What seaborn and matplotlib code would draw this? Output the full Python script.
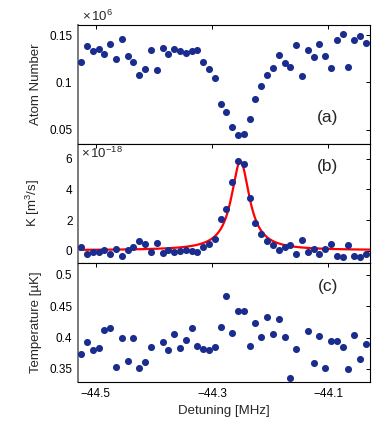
import numpy as np
import pandas as pd
import seaborn as sns
from matplotlib import pyplot as plt

# detuning in MHz, one value per shot
detuning = [-44.525, -44.515, -44.505, -44.495, -44.485, -44.475, -44.465, -44.455, -44.445, -44.435,
            -44.425, -44.415, -44.405, -44.395, -44.385, -44.375, -44.365, -44.355, -44.345, -44.335,
            -44.325, -44.315, -44.305, -44.295, -44.285, -44.275, -44.265, -44.255, -44.245, -44.235,
            -44.225, -44.215, -44.205, -44.195, -44.185, -44.175, -44.165, -44.155, -44.145, -44.135,
            -44.125, -44.115, -44.105, -44.095, -44.085, -44.075, -44.065, -44.055, -44.045, -44.035]

# atom number in units of 1e6
atoms = [0.1218, 0.1387, 0.1327, 0.1349, 0.1296, 0.1405, 0.1250, 0.1461, 0.1275, 0.1215,
         0.1081, 0.1141, 0.1345, 0.1127, 0.1359, 0.1303, 0.1352, 0.1331, 0.1313, 0.1334,
         0.1342, 0.1215, 0.1141, 0.1049, 0.0771, 0.0687, 0.0528, 0.0447, 0.0458, 0.0613,
         0.0824, 0.0958, 0.1077, 0.1151, 0.1292, 0.1208, 0.1158, 0.1398, 0.1063, 0.1338,
         0.1268, 0.1401, 0.1275, 0.1148, 0.1444, 0.1511, 0.1158, 0.1444, 0.1493, 0.1412]

# loss coefficient K in units of 1e-18 m^3/s
K = [0.22, -0.22, -0.07, -0.11, 0.04, -0.22, 0.13, -0.35, 0.04, 0.22,
     0.63, 0.43, -0.11, 0.48, -0.13, 0.04, -0.09, -0.02, 0.02, -0.04,
     -0.09, 0.22, 0.43, 0.74, 2.07, 2.74, 4.46, 5.85, 5.65, 3.43,
     1.78, 1.09, 0.65, 0.39, 0.02, 0.26, 0.37, -0.22, 0.70, -0.09,
     0.09, -0.22, 0.09, 0.41, -0.33, -0.43, 0.37, -0.33, -0.39, -0.22]

# temperature in uK (nan = no point shown)
temp = [0.3735, 0.3931, 0.3799, 0.3831, 0.4123, 0.4160, 0.3537, 0.3990, 0.3623, 0.4000,
        0.3521, 0.3607, 0.3852, np.nan, 0.3931, 0.3799, 0.4054, 0.3840, 0.3968, 0.4160,
        0.3868, 0.3824, 0.3799, 0.3852, 0.4166, 0.4666, 0.4070, 0.4431, 0.4431, 0.3872,
        0.4230, 0.4011, 0.4335, 0.4064, 0.4294, 0.4016, 0.3352, 0.3824, np.nan, 0.4107,
        0.3601, 0.4027, 0.3521, 0.3947, 0.3947, 0.3847, 0.3505, 0.4043, 0.3665, 0.3904]

# lorentzian fit to K
fit_center = -44.251
fit_amp = 5.8
fit_hwhm = 0.019
fit_offset = 0.03

df = pd.DataFrame({'detuning': detuning, 'atoms': atoms, 'K': K, 'temp': temp})
xfit = np.linspace(-44.535, -44.025, 600)
fit = pd.DataFrame({'detuning': xfit,
                    'K': fit_offset + fit_amp / (1 + ((xfit - fit_center) / fit_hwhm) ** 2)})

sns.set_style('white')
plt.rcParams['font.family'] = ['Liberation Sans', 'DejaVu Sans']
plt.rcParams['mathtext.fontset'] = 'custom'
plt.rcParams['mathtext.rm'] = 'Liberation Sans'
plt.rcParams['mathtext.it'] = 'Liberation Sans'

dot = '#1a2d8f'
fig = plt.figure(figsize=(3.9, 4.25), dpi=100)
left, width, h = 0.2, 0.7487, 0.28
axa = fig.add_axes([left, 0.6612, width, h])
axb = fig.add_axes([left, 0.3812, width, h])
axc = fig.add_axes([left, 0.1012, width, h])

sns.lineplot(data=fit, x='detuning', y='K', ax=axb, color='red', linewidth=1.6, zorder=2)
for ax, col in [(axa, 'atoms'), (axb, 'K'), (axc, 'temp')]:
    sns.scatterplot(data=df, x='detuning', y=col, ax=ax, color=dot, s=26,
                    edgecolor=dot, linewidth=0, zorder=3)

axa.set_ylim(0.035, 0.1606)
axa.set_yticks([0.05, 0.1, 0.15])
axa.set_yticklabels(['0.05', '0.1', '0.15'])
axa.set_ylabel('Atom Number')

axb.set_ylim(-0.8, 6.96)
axb.set_yticks([0, 2, 4, 6])
axb.set_ylabel('K [m$^3$/s]')

axc.set_ylim(0.329, 0.519)
axc.set_yticks([0.35, 0.4, 0.45, 0.5])
axc.set_yticklabels(['0.35', '0.4', '0.45', '0.5'])
axc.set_ylabel('Temperature [\u00b5K]')
axc.set_xlabel('Detuning [MHz]', fontsize=9.5)

tag_y = {'(a)': 0.225, '(b)': 0.81, '(c)': 0.80}
for ax, tag in [(axa, '(a)'), (axb, '(b)'), (axc, '(c)')]:
    ax.set_xlim(-44.5304, -44.028)
    ax.set_xticks([-44.5, -44.3, -44.1])
    ax.tick_params(direction='in', length=3, width=0.7, top=True, right=True,
                   labelsize=8.5, colors='black', pad=4)
    ax.yaxis.label.set_size(9.5)
    ax.yaxis.set_label_coords(-0.123, 0.5)
    for side in ['top', 'right', 'bottom']:
        ax.spines[side].set_color('black')
        ax.spines[side].set_linewidth(0.8)
    ax.spines['left'].set_color('#7a7a7a')
    ax.spines['left'].set_linewidth(1.4)
    ax.text(0.855, tag_y[tag], tag, transform=ax.transAxes,
            fontsize=12.5, ha='center', va='center')
    if ax is not axc:
        ax.set_xlabel('')
        ax.set_xticklabels([])

axa.text(0.015, 1.01, r'$\times\,10^{6}$', transform=axa.transAxes,
         fontsize=9.5, ha='left', va='bottom')
axb.text(0.01, 0.985, r'$\times\,10^{-18}$', transform=axb.transAxes,
         fontsize=9.5, ha='left', va='top')

fig.savefig('out.png', dpi=100)
